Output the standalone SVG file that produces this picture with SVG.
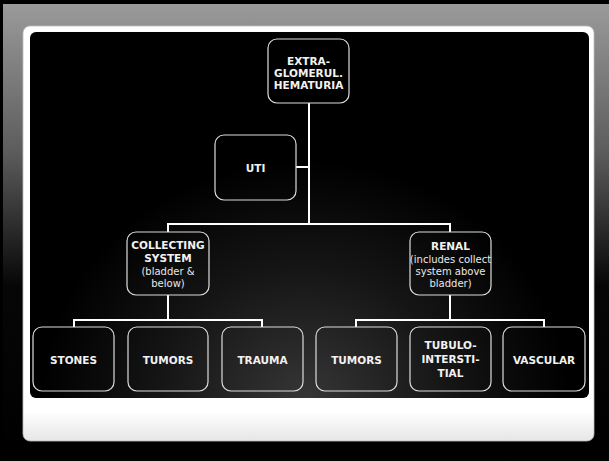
<svg xmlns="http://www.w3.org/2000/svg" width="609" height="461" viewBox="0 0 609 461">
  <defs>
    <linearGradient id="bgFade" x1="0" y1="0" x2="0" y2="461" gradientUnits="userSpaceOnUse">
      <stop offset="0" stop-color="#9c9c9c"/>
      <stop offset="0.33" stop-color="#5c5c5c"/>
      <stop offset="0.62" stop-color="#060606"/>
      <stop offset="1" stop-color="#000"/>
    </linearGradient>
    <linearGradient id="panelFade" x1="0" y1="26" x2="0" y2="441" gradientUnits="userSpaceOnUse">
      <stop offset="0" stop-color="#fff"/>
      <stop offset="0.93" stop-color="#fff"/>
      <stop offset="1" stop-color="#e6e6e6"/>
    </linearGradient>
    <radialGradient id="stageGlow" cx="305" cy="400" r="240" gradientUnits="userSpaceOnUse" gradientTransform="translate(305 400) scale(1.1 1) translate(-305 -400)">
      <stop offset="0" stop-color="#363636"/>
      <stop offset="0.55" stop-color="#151515"/>
      <stop offset="1" stop-color="#000"/>
    </radialGradient>
    <style>
      .box { fill: none; stroke: #dcdcdc; stroke-width: 1.2; }
      .link { fill: none; stroke: #fff; stroke-width: 2; }
      .t { font-family: "DejaVu Sans", Verdana, sans-serif; font-size: 10.5px; font-weight: bold; fill: #f2f2f2; text-anchor: middle; dominant-baseline: central; }
      .n { font-family: "DejaVu Sans", Verdana, sans-serif; font-size: 10px; fill: #e8e8e8; text-anchor: middle; dominant-baseline: central; }
    </style>
  </defs>

  <!-- slide frame -->
  <rect x="0" y="0" width="609" height="461" fill="#000"/>
  <rect x="3" y="4" width="606" height="457" fill="url(#bgFade)"/>
  <rect x="23" y="26" width="571" height="415" rx="7" fill="url(#panelFade)" stroke="#bdbdbd" stroke-width="0.8"/>
  <rect x="30" y="32" width="559" height="366" rx="6" fill="url(#stageGlow)"/>

  <!-- connectors -->
  <g id="connectors">
    <path class="link" d="M309 103 V224"/>
    <path class="link" d="M296 167 H309"/>
    <path class="link" d="M168 232 V224 H450 V232"/>
    <path class="link" d="M168 295 V320"/>
    <path class="link" d="M74 327 V320 H262 V327"/>
    <path class="link" d="M450 295 V320"/>
    <path class="link" d="M356 327 V320 H544 V327"/>
  </g>

  <g id="hematuria">
    <rect class="box" x="268" y="39" width="81" height="64" rx="9"/>
    <text class="t" x="308.5" y="61">EXTRA-</text>
    <text class="t" x="308.5" y="73">GLOMERUL.</text>
    <text class="t" x="308.5" y="85">HEMATURIA</text>
  </g>

  <g id="uti">
    <rect class="box" x="215" y="135" width="81" height="65" rx="9"/>
    <text class="t" x="255.5" y="168">UTI</text>
  </g>

  <g id="collecting">
    <rect class="box" x="127" y="232" width="82" height="63" rx="9"/>
    <text class="t" x="168" y="245">COLLECTING</text>
    <text class="t" x="168" y="258">SYSTEM</text>
    <text class="n" x="168" y="271">(bladder &amp;</text>
    <text class="n" x="168" y="283">below)</text>
  </g>

  <g id="renal">
    <rect class="box" x="410" y="232" width="81" height="63" rx="9"/>
    <text class="t" x="450.5" y="246">RENAL</text>
    <text class="n" x="450.5" y="259">(includes collect</text>
    <text class="n" x="450.5" y="271">system above</text>
    <text class="n" x="450.5" y="283">bladder)</text>
  </g>

  <g id="stones">
    <rect class="box" x="33" y="327" width="81" height="64" rx="9"/>
    <text class="t" x="73.5" y="360">STONES</text>
  </g>

  <g id="tumors-lower">
    <rect class="box" x="128" y="327" width="80" height="64" rx="9"/>
    <text class="t" x="168" y="360">TUMORS</text>
  </g>

  <g id="trauma">
    <rect class="box" x="222" y="327" width="81" height="64" rx="9"/>
    <text class="t" x="262.5" y="360">TRAUMA</text>
  </g>

  <g id="tumors-renal">
    <rect class="box" x="316" y="327" width="81" height="64" rx="9"/>
    <text class="t" x="356.5" y="360">TUMORS</text>
  </g>

  <g id="tubulointerstitial">
    <rect class="box" x="410" y="327" width="81" height="64" rx="9"/>
    <text class="t" x="450.5" y="345">TUBULO-</text>
    <text class="t" x="450.5" y="359">INTERSTI-</text>
    <text class="t" x="450.5" y="373">TIAL</text>
  </g>

  <g id="vascular">
    <rect class="box" x="503" y="327" width="82" height="64" rx="9"/>
    <text class="t" x="544" y="360">VASCULAR</text>
  </g>
</svg>
